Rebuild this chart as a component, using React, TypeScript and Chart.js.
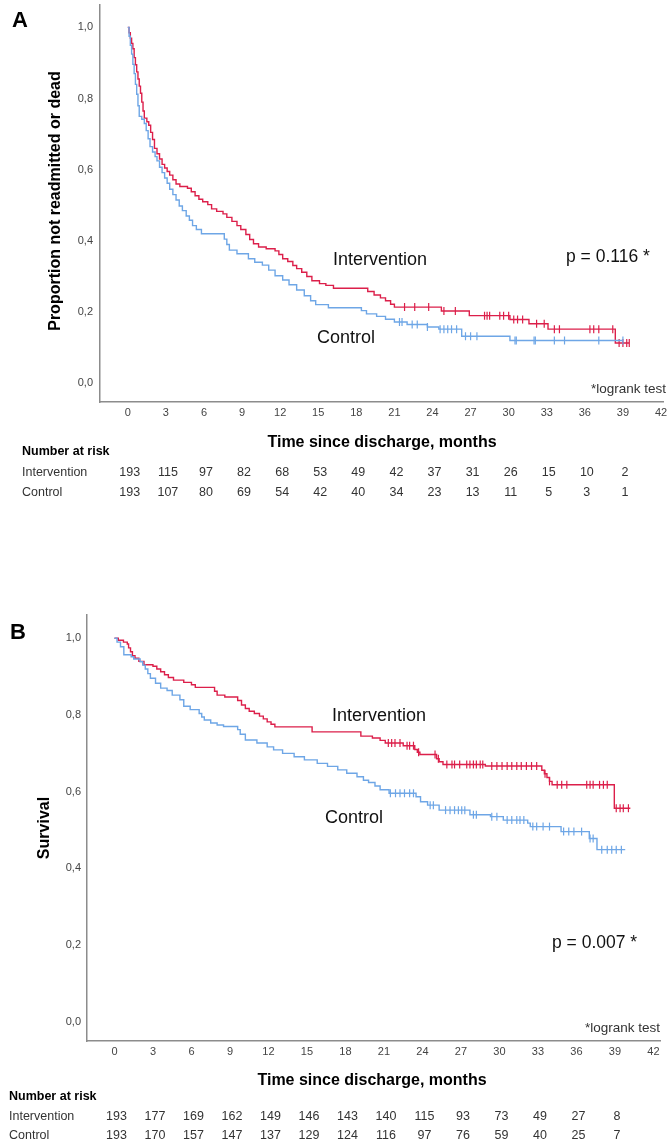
import React, { useEffect, useRef } from 'react';
import { Chart, registerables } from 'chart.js';

Chart.register(...registerables);

// ---------- shared axis data ----------
const X_TICKS = [0, 3, 6, 9, 12, 15, 18, 21, 24, 27, 30, 33, 36, 39, 42];
const Y_TICKS = [0, 0.2, 0.4, 0.6, 0.8, 1.0];
const RISK_TIMES = [0, 3, 6, 9, 12, 15, 18, 21, 24, 27, 30, 33, 36, 39];

// ---------- Panel A: readmission or death ----------
const A_INT_T = [0, 0.1, 0.2, 0.3, 0.4, 0.5, 0.6, 0.7, 0.8, 0.9, 1.0, 1.1, 1.2, 1.3, 1.5, 1.65, 1.8, 1.95, 2.1, 2.3, 2.5, 2.7, 2.9, 3.1, 3.3, 3.55, 3.8, 4.1, 4.7, 5.0, 5.3, 5.6, 5.9, 6.3, 6.6, 7.0, 7.5, 7.8, 8.2, 8.6, 8.9, 9.3, 9.6, 9.9, 10.3, 10.9, 11.6, 11.9, 12.2, 12.6, 13.0, 13.3, 13.7, 14.1, 14.5, 15.1, 15.6, 16.2, 18.9, 19.4, 19.9, 20.3, 20.7, 21.0, 24.7, 26.9, 30.1, 31.6, 33.1, 38.4];
const A_INT_S = [1.0, 0.985, 0.97, 0.955, 0.94, 0.915, 0.895, 0.875, 0.855, 0.835, 0.815, 0.79, 0.765, 0.745, 0.735, 0.725, 0.705, 0.685, 0.66, 0.645, 0.63, 0.615, 0.605, 0.595, 0.585, 0.572, 0.56, 0.553, 0.548, 0.538, 0.527, 0.517, 0.51, 0.502, 0.49, 0.483, 0.476, 0.466, 0.455, 0.443, 0.432, 0.418, 0.404, 0.392, 0.383, 0.378, 0.372, 0.362, 0.35, 0.342, 0.331, 0.322, 0.312, 0.3, 0.288, 0.28, 0.275, 0.267, 0.258, 0.248, 0.24, 0.232, 0.222, 0.214, 0.203, 0.19, 0.179, 0.167, 0.152, 0.113];
const A_INT_END = 39.5;
const A_INT_CENSOR = [21.8, 22.6, 23.7, 24.9, 25.8, 28.1, 28.3, 28.5, 29.3, 29.6, 30.0, 30.4, 30.7, 31.1, 32.2, 32.8, 33.6, 34.0, 36.4, 36.7, 37.1, 38.2, 38.7, 39.0, 39.3, 39.5];

const A_CTRL_T = [0, 0.1, 0.2, 0.3, 0.4, 0.5, 0.6, 0.7, 0.8, 0.9, 1.1, 1.3, 1.45, 1.6, 1.75, 1.95, 2.15, 2.3, 2.5, 2.7, 2.9, 3.1, 3.3, 3.55, 3.8, 4.05, 4.3, 4.6, 4.85, 5.1, 5.4, 5.8, 7.6, 7.8, 8.0, 8.6, 9.5, 10.0, 10.6, 11.1, 11.6, 12.2, 12.7, 13.3, 13.9, 14.4, 14.8, 15.8, 18.4, 18.8, 19.6, 20.3, 21.0, 22.0, 23.6, 24.5, 26.3, 30.1];
const A_CTRL_S = [1.0, 0.975, 0.95, 0.925, 0.896, 0.87, 0.84, 0.812, 0.78, 0.75, 0.742, 0.73, 0.71, 0.687, 0.665, 0.65, 0.637, 0.625, 0.607, 0.592, 0.577, 0.562, 0.545, 0.53, 0.515, 0.498, 0.485, 0.47, 0.458, 0.443, 0.432, 0.42, 0.405, 0.39, 0.374, 0.364, 0.35, 0.34, 0.332, 0.318, 0.302, 0.29, 0.277, 0.262, 0.246, 0.232, 0.221, 0.212, 0.204, 0.195, 0.188, 0.18, 0.172, 0.165, 0.158, 0.152, 0.132, 0.12];
const A_CTRL_END = 39.0;
const A_CTRL_CENSOR = [21.4, 21.6, 22.4, 22.8, 23.6, 24.6, 24.9, 25.2, 25.5, 25.9, 26.6, 27.0, 27.5, 30.5, 30.6, 32.0, 32.1, 33.6, 34.4, 37.1, 39.0];

const A_RISK_INT = [193, 115, 97, 82, 68, 53, 49, 42, 37, 31, 26, 15, 10, 2];
const A_RISK_CTRL = [193, 107, 80, 69, 54, 42, 40, 34, 23, 13, 11, 5, 3, 1];

// ---------- Panel B: survival ----------
const B_INT_T = [0, 0.3, 0.7, 1.0, 1.1, 1.25, 1.4, 1.6, 1.9, 2.3, 3.0, 3.3, 3.6, 3.9, 4.2, 4.6, 5.4, 6.0, 6.3, 7.8, 8.0, 8.6, 9.6, 9.9, 10.2, 10.5, 10.9, 11.3, 11.6, 11.9, 12.2, 12.5, 15.4, 19.2, 20.1, 20.7, 21.1, 22.5, 23.4, 23.6, 23.8, 25.1, 25.3, 25.6, 28.9, 33.3, 33.5, 33.7, 33.9, 34.1, 38.95];
const B_INT_S = [1.0, 0.995, 0.99, 0.985, 0.975, 0.965, 0.955, 0.948, 0.94, 0.931, 0.927, 0.92, 0.913, 0.905, 0.898, 0.891, 0.885, 0.879, 0.872, 0.862, 0.852, 0.847, 0.838, 0.826, 0.817, 0.81, 0.804, 0.797, 0.79, 0.782, 0.776, 0.769, 0.756, 0.745, 0.74, 0.734, 0.727, 0.72, 0.71, 0.703, 0.697, 0.686, 0.678, 0.671, 0.667, 0.656, 0.647, 0.637, 0.627, 0.618, 0.557];
const B_INT_END = 40.2;
const B_INT_CENSOR = [21.34, 21.6, 21.86, 22.25, 22.8, 23.0, 23.3, 23.7, 24.98, 25.24, 25.9, 26.3, 26.5, 26.9, 27.45, 27.7, 27.97, 28.2, 28.5, 28.7, 29.4, 29.8, 30.2, 30.6, 30.96, 31.35, 31.7, 32.1, 32.5, 32.9, 33.55, 33.9, 34.5, 34.85, 35.25, 36.8, 37.06, 37.3, 37.8, 38.1, 38.4, 39.1, 39.4, 39.65, 40.05];

const B_CTRL_T = [0, 0.2, 0.47, 0.73, 1.3, 1.5, 2.0, 2.2, 2.4, 2.6, 2.8, 3.2, 3.6, 4.1, 4.5, 5.1, 5.4, 5.9, 6.6, 6.8, 7.0, 7.5, 8.0, 8.5, 9.6, 9.8, 10.2, 11.1, 11.9, 12.4, 13.1, 14.0, 14.8, 15.8, 16.6, 17.4, 18.1, 18.9, 19.4, 19.8, 20.3, 20.7, 21.4, 23.5, 23.85, 24.4, 25.3, 27.7, 29.3, 30.3, 32.2, 32.4, 34.8, 37.0, 37.6];
const B_CTRL_S = [1.0, 0.99, 0.978, 0.957, 0.952, 0.946, 0.939, 0.93, 0.92, 0.908, 0.896, 0.883, 0.87, 0.864, 0.852, 0.84, 0.823, 0.814, 0.804, 0.795, 0.787, 0.779, 0.774, 0.77, 0.762, 0.75, 0.735, 0.727, 0.717, 0.709, 0.7, 0.691, 0.683, 0.674, 0.666, 0.657, 0.648, 0.639, 0.63, 0.624, 0.615, 0.605, 0.596, 0.587, 0.574, 0.565, 0.552, 0.54, 0.535, 0.526, 0.518, 0.509, 0.496, 0.478, 0.449];
const B_CTRL_END = 39.8;
const B_CTRL_CENSOR = [21.5, 21.9, 22.25, 22.6, 23.0, 23.3, 24.6, 24.85, 25.8, 26.15, 26.5, 26.8, 27.06, 27.3, 27.97, 28.2, 29.4, 29.8, 30.6, 30.96, 31.35, 31.6, 31.9, 32.6, 32.9, 33.4, 33.9, 35.0, 35.4, 35.8, 36.4, 37.06, 37.3, 37.97, 38.4, 38.75, 39.1, 39.5];

const B_RISK_INT = [193, 177, 169, 162, 149, 146, 143, 140, 115, 93, 73, 49, 27, 8];
const B_RISK_CTRL = [193, 170, 157, 147, 137, 129, 124, 116, 97, 76, 59, 40, 25, 7];

// ---------- styling ----------
const RED = '#dc1f4a';
const BLUE = '#6ea6e6';
const AXIS = '#8c8c8c';
const FONT = "'Liberation Sans', Arial, sans-serif";
const NARROW = "'Liberation Sans Narrow', 'Liberation Sans', Arial, sans-serif";

function stepValue(T: number[], S: number[], t: number): number {
  let v = S[0];
  for (let i = 0; i < T.length; i++) {
    if (T[i] <= t) v = S[i];
  }
  return v;
}

function curve(T: number[], S: number[], end: number) {
  const pts = T.map((t, i) => ({ x: t, y: S[i] }));
  pts.push({ x: end, y: S[S.length - 1] });
  return pts;
}

function censors(T: number[], S: number[], C: number[]) {
  return C.map((t) => ({ x: t, y: stepValue(T, S, t) }));
}

type PanelCfg = {
  top: number;
  height: number;
  yAxisWidth: number;
  padding: { top: number; bottom: number; left: number; right: number };
  xMin: number; xMax: number; yMin: number; yMax: number;
  yTickPad: number;
  letter: string; letterX: number; letterY: number;
  yTitle: string; yTitleX: number; yTitleY: number;
  xTitle: string; xTitleX: number; xTitleY: number;
  intLabel: [number, number]; ctrlLabel: [number, number];
  pText: string; pPos: [number, number];
  logrankPos: [number, number];
  riskLeft: number; riskHeaderY: number; riskIntY: number; riskCtrlY: number;
  riskInt: number[]; riskCtrl: number[];
  intT: number[]; intS: number[]; intEnd: number; intC: number[];
  ctrlT: number[]; ctrlS: number[]; ctrlEnd: number; ctrlC: number[];
};

const PANEL_A: PanelCfg = {
  top: 0, height: 560, yAxisWidth: 100,
  padding: { top: 0, bottom: 138, left: 0, right: 1 },
  xMin: -2.19, xMax: 42.22, yMin: -0.0527, yMax: 1.0624, yTickPad: 7,
  letter: 'A', letterX: 20, letterY: 21,
  yTitle: 'Proportion not readmitted or dead', yTitleX: 56, yTitleY: 201,
  xTitle: 'Time since discharge, months', xTitleX: 382, xTitleY: 443,
  intLabel: [333, 260], ctrlLabel: [317, 338],
  pText: 'p = 0.116 *', pPos: [566, 257],
  logrankPos: [666, 389],
  riskLeft: 22, riskHeaderY: 452, riskIntY: 473, riskCtrlY: 493,
  riskInt: A_RISK_INT, riskCtrl: A_RISK_CTRL,
  intT: A_INT_T, intS: A_INT_S, intEnd: A_INT_END, intC: A_INT_CENSOR,
  ctrlT: A_CTRL_T, ctrlS: A_CTRL_S, ctrlEnd: A_CTRL_END, ctrlC: A_CTRL_CENSOR,
};

const PANEL_B: PanelCfg = {
  top: 560, height: 581, yAxisWidth: 87,
  padding: { top: 55, bottom: 80, left: 0, right: 9 },
  xMin: -2.14, xMax: 42.51, yMin: -0.05, yMax: 1.0608, yTickPad: 6,
  letter: 'B', letterX: 18, letterY: 73,
  yTitle: 'Survival', yTitleX: 44.5, yTitleY: 268,
  xTitle: 'Time since discharge, months', xTitleX: 372, xTitleY: 521,
  intLabel: [332, 156], ctrlLabel: [325, 258],
  pText: 'p = 0.007 *', pPos: [552, 383],
  logrankPos: [660, 468],
  riskLeft: 9, riskHeaderY: 537, riskIntY: 557, riskCtrlY: 576,
  riskInt: B_RISK_INT, riskCtrl: B_RISK_CTRL,
  intT: B_INT_T, intS: B_INT_S, intEnd: B_INT_END, intC: B_INT_CENSOR,
  ctrlT: B_CTRL_T, ctrlS: B_CTRL_S, ctrlEnd: B_CTRL_END, ctrlC: B_CTRL_CENSOR,
};

function overlayPlugin(p: PanelCfg) {
  return {
    id: 'overlay' + p.letter,
    afterDraw(chart: any) {
      const ctx: CanvasRenderingContext2D = chart.ctx;
      const xs = chart.scales.x;
      ctx.save();
      ctx.textBaseline = 'middle';
      ctx.fillStyle = '#000';

      ctx.font = `bold 22px ${FONT}`;
      ctx.textAlign = 'center';
      ctx.fillText(p.letter, p.letterX, p.letterY);

      ctx.save();
      ctx.translate(p.yTitleX, p.yTitleY);
      ctx.rotate(-Math.PI / 2);
      ctx.font = `bold 16px ${FONT}`;
      ctx.textAlign = 'center';
      ctx.fillText(p.yTitle, 0, 0);
      ctx.restore();

      ctx.font = `bold 16px ${FONT}`;
      ctx.textAlign = 'center';
      ctx.fillText(p.xTitle, p.xTitleX, p.xTitleY);

      ctx.font = `18px ${FONT}`;
      ctx.textAlign = 'left';
      ctx.fillStyle = '#111';
      ctx.fillText('Intervention', p.intLabel[0], p.intLabel[1]);
      ctx.fillText('Control', p.ctrlLabel[0], p.ctrlLabel[1]);
      ctx.font = `17.5px ${FONT}`;
      ctx.fillText(p.pText, p.pPos[0], p.pPos[1]);

      ctx.font = `13.5px ${FONT}`;
      ctx.fillStyle = '#333';
      ctx.textAlign = 'right';
      ctx.fillText('*logrank test', p.logrankPos[0], p.logrankPos[1]);

      ctx.font = `bold 12.5px ${FONT}`;
      ctx.fillStyle = '#000';
      ctx.textAlign = 'left';
      ctx.fillText('Number at risk', p.riskLeft, p.riskHeaderY);

      ctx.font = `12.5px ${FONT}`;
      ctx.fillStyle = '#333';
      ctx.fillText('Intervention', p.riskLeft, p.riskIntY);
      ctx.fillText('Control', p.riskLeft, p.riskCtrlY);
      ctx.textAlign = 'center';
      RISK_TIMES.forEach((t, i) => {
        const x = xs.getPixelForValue(t) + 2;
        ctx.fillText(String(p.riskInt[i]), x, p.riskIntY);
        ctx.fillText(String(p.riskCtrl[i]), x, p.riskCtrlY);
      });
      ctx.restore();
    },
  };
}

function KMPanel({ cfg }: { cfg: PanelCfg }) {
  const ref = useRef<HTMLCanvasElement | null>(null);
  useEffect(() => {
    if (!ref.current) return;
    const chart = new Chart(ref.current, {
      type: 'scatter',
      data: {
        datasets: [
          {
            label: 'Control',
            data: curve(cfg.ctrlT, cfg.ctrlS, cfg.ctrlEnd),
            showLine: true,
            stepped: 'before',
            borderColor: BLUE,
            borderWidth: 1.4,
            pointRadius: 0,
            fill: false,
          } as any,
          {
            label: 'Control censored',
            data: censors(cfg.ctrlT, cfg.ctrlS, cfg.ctrlC),
            showLine: false,
            pointStyle: 'line',
            rotation: 90,
            pointRadius: 4,
            borderColor: BLUE,
            backgroundColor: BLUE,
            borderWidth: 1.2,
          } as any,
          {
            label: 'Intervention',
            data: curve(cfg.intT, cfg.intS, cfg.intEnd),
            showLine: true,
            stepped: 'before',
            borderColor: RED,
            borderWidth: 1.4,
            pointRadius: 0,
            fill: false,
          } as any,
          {
            label: 'Intervention censored',
            data: censors(cfg.intT, cfg.intS, cfg.intC),
            showLine: false,
            pointStyle: 'line',
            rotation: 90,
            pointRadius: 4,
            borderColor: RED,
            backgroundColor: RED,
            borderWidth: 1.2,
          } as any,
        ],
      },
      options: {
        responsive: false,
        animation: false,
        events: [],
        layout: { padding: cfg.padding },
        plugins: { legend: { display: false }, tooltip: { enabled: false } },
        scales: {
          x: {
            type: 'linear',
            min: cfg.xMin,
            max: cfg.xMax,
            grid: { display: false, drawTicks: false, tickLength: 0 },
            border: { display: true, color: AXIS, width: 1.5 },
            afterBuildTicks: (axis: any) => {
              axis.ticks = X_TICKS.map((v) => ({ value: v }));
            },
            afterFit: (s: any) => {
              s.height = 20;
              s.paddingLeft = 0;
              s.paddingRight = 0;
            },
            ticks: {
              autoSkip: false,
              maxRotation: 0,
              padding: 4,
              color: '#444',
              font: { family: NARROW, size: 11 },
              callback: (v: any) => String(v),
            },
          },
          y: {
            type: 'linear',
            min: cfg.yMin,
            max: cfg.yMax,
            grid: { display: false, drawTicks: false, tickLength: 0 },
            border: { display: true, color: AXIS, width: 1.5 },
            afterBuildTicks: (axis: any) => {
              axis.ticks = Y_TICKS.map((v) => ({ value: v }));
            },
            afterFit: (s: any) => {
              s.width = cfg.yAxisWidth;
              s.paddingTop = 0;
              s.paddingBottom = 0;
            },
            ticks: {
              padding: cfg.yTickPad,
              color: '#444',
              font: { family: NARROW, size: 11 },
              callback: (v: any) => Number(v).toFixed(1).replace('.', ','),
            },
          },
        },
      } as any,
      plugins: [overlayPlugin(cfg)],
    });
    return () => chart.destroy();
  }, [cfg]);

  return (
    <div style={{ position: 'absolute', left: 0, top: cfg.top, width: 669, height: cfg.height }}>
      <canvas ref={ref} width={669} height={cfg.height} style={{ width: 669, height: cfg.height, display: 'block' }} />
    </div>
  );
}

export default function App() {
  return (
    <div style={{ position: 'absolute', left: 0, top: 0, width: 669, height: 1141, background: '#fff' }}>
      <KMPanel cfg={PANEL_A} />
      <KMPanel cfg={PANEL_B} />
    </div>
  );
}
